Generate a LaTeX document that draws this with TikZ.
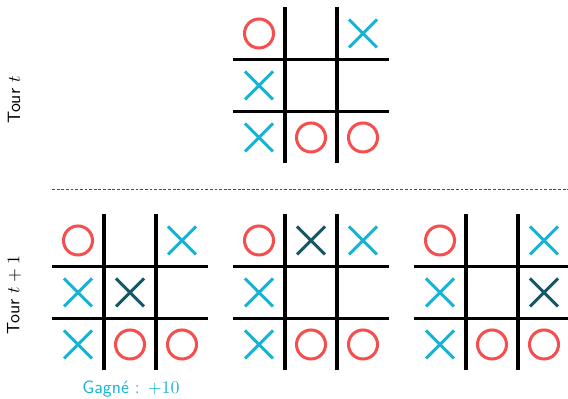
\documentclass[tikz,border=0pt]{standalone}
\usepackage{tikz}
\usetikzlibrary{positioning}
\definecolor{oRed}{RGB}{244,78,78}
\definecolor{xCyan}{RGB}{22,180,210}
\definecolor{xDark}{RGB}{22,88,102}

\tikzset{
  gridline/.style={line width=1.7pt, black},
  xmark/.style={line width=1.7pt, xCyan},
  omark/.style={line width=1.7pt, oRed},
  turnlabel/.style={font=\sffamily, rotate=90},
}

% pieces: column, row (1..3, from top left)
\newcommand{\pionX}[3][xCyan]{%
  \draw[xmark, #1] ({(#2-2)*52-14},{(2-#3)*52-14}) -- ++(28,28)
                   ({(#2-2)*52-14},{(2-#3)*52+14}) -- ++(28,-28);}
\newcommand{\pionO}[2]{%
  \draw[omark] ({(#1-2)*52},{(2-#2)*52}) circle (14.5);}

% empty grid and the position at turn t
\newcommand{\plateau}{%
  \foreach \k in {-26,26} {
    \draw[gridline] (\k,-78) -- (\k,78);
    \draw[gridline] (-78,\k) -- (78,\k);
  }
  \pionO{1}{1} \pionX{3}{1}
  \pionX{1}{2}
  \pionX{1}{3} \pionO{2}{3} \pionO{3}{3}
}

\begin{document}
\begin{tikzpicture}[x=0.56pt, y=0.56pt]
  \useasboundingbox (0,0) rectangle (568,399);

  % Turn t
  \begin{scope}[shift={(311,313.5)}]
    \plateau
  \end{scope}
  \node[turnlabel] (tourT) at (14,299) {Tour $t$};

  % separation
  \draw[dashed, dash pattern=on 1.6pt off 1pt, line width=0.5pt, black!70] (52,210) -- (568,210);

  % Turn t+1: the three possible moves
  \begin{scope}[shift={(130,106.5)}]
    \plateau
    \pionX[xDark]{2}{2}
  \end{scope}
  \begin{scope}[shift={(311,106.5)}]
    \plateau
    \pionX[xDark]{2}{1}
  \end{scope}
  \begin{scope}[shift={(492,106.5)}]
    \plateau
    \pionX[xDark]{3}{2}
  \end{scope}
  \node[turnlabel] (tourTT) at (14,104) {Tour $t+1$};

  \node[font=\sffamily, text=xCyan] (gain) at (131,10) {Gagné : $+10$};
\end{tikzpicture}
\end{document}
